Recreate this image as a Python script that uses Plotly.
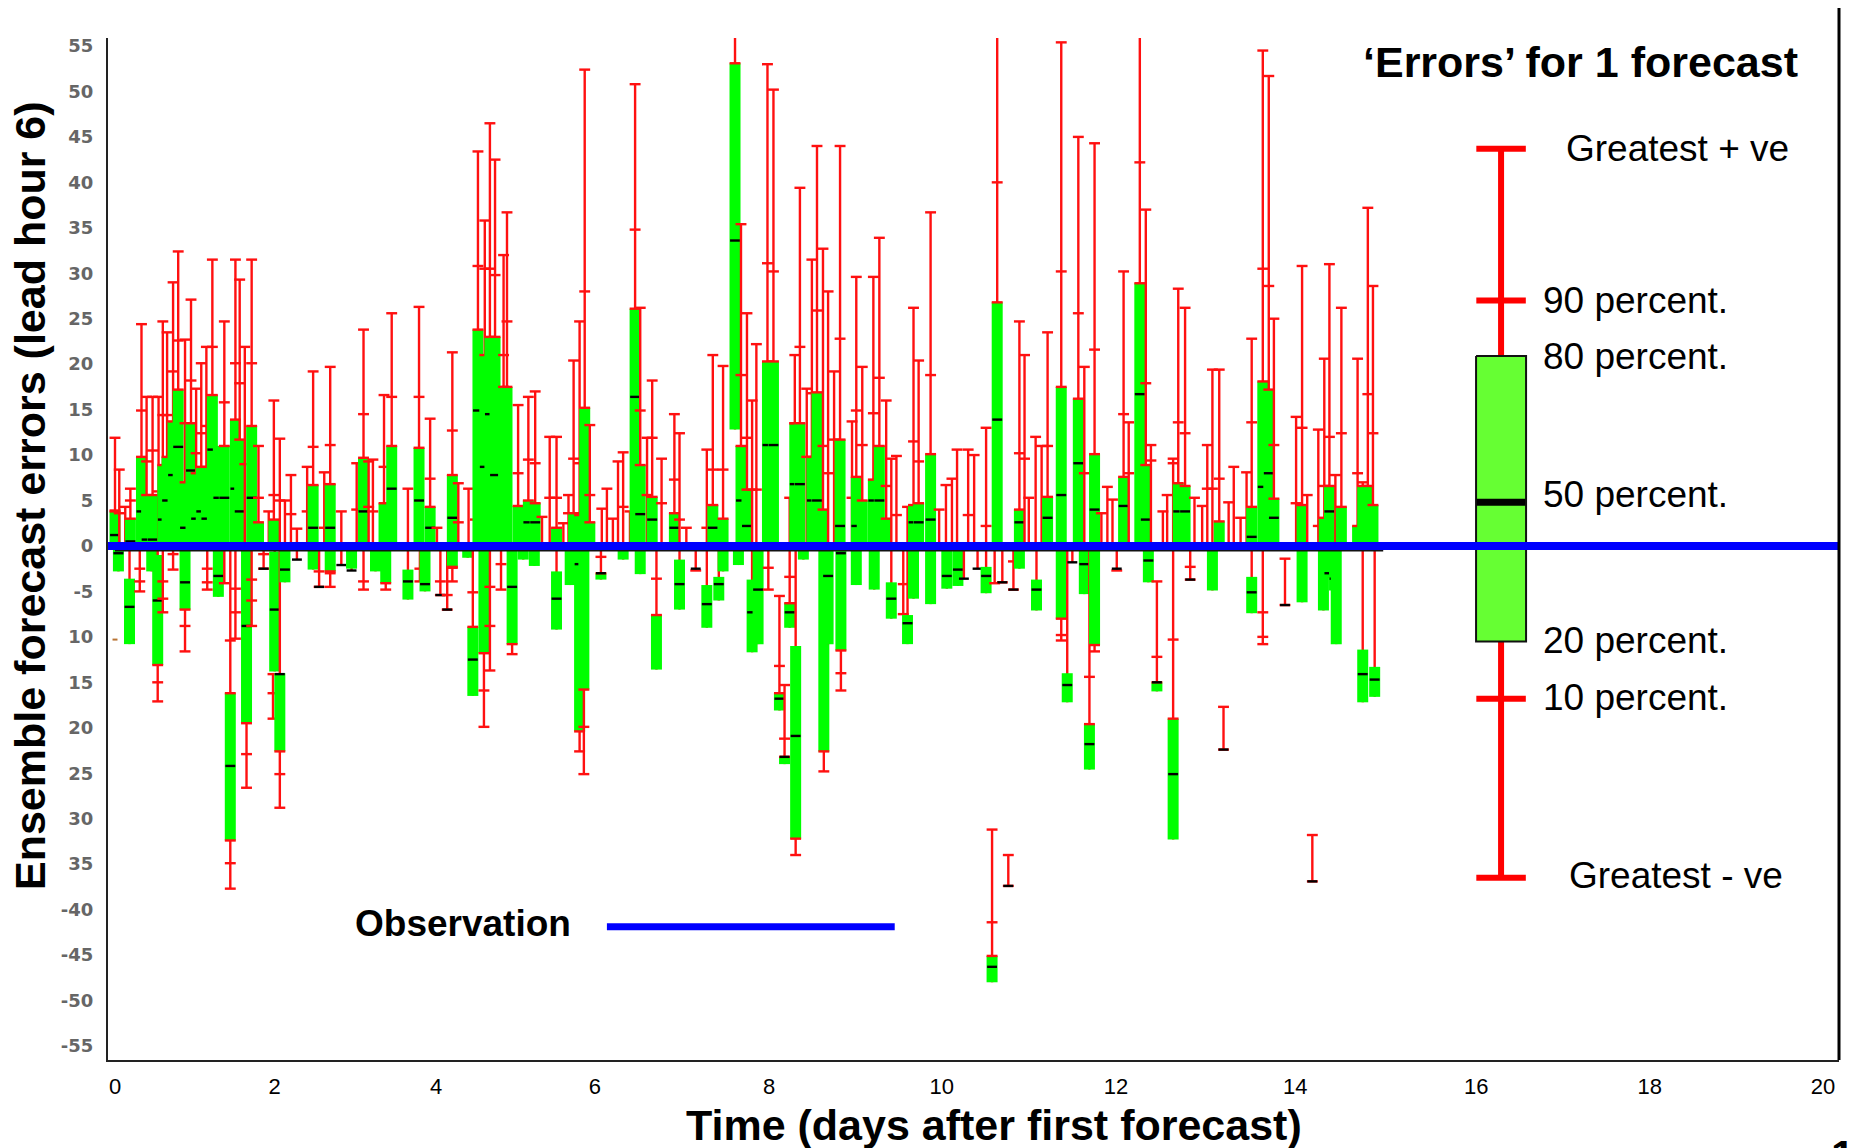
import plotly.graph_objects as go

N = None

# Forecasts that lie mainly above the observation (box reaches down to zero)
up_day = [0.00,0.05,0.12,0.18,0.31,0.37,0.44,0.51,0.56,0.61,
          0.68,0.74,0.82,0.89,0.95,1.01,1.07,1.14,1.21,1.28,
          1.41,1.46,1.52,1.60,1.68,1.80,1.86,1.93,1.99,2.06,
          2.13,2.25,2.32,2.45,2.52,2.65,2.83,2.91,2.97,3.02,
          3.15,3.24,3.43,3.56,3.69,3.77,3.95,4.02,4.14,4.22,
          4.25,4.33,4.39,4.45,4.55,4.59,4.72,4.84,4.92,5.00,
          5.09,5.17,5.25,5.31,5.37,5.44,5.50,5.56,5.70,5.76,
          5.83,5.89,5.95,6.03,6.09,6.15,6.23,6.29,6.40,6.55,
          6.61,6.69,6.93,7.00,7.12,7.33,7.40,7.46,7.51,
          7.64,7.71,7.90,7.96,8.02,8.10,8.16,8.22,8.29,8.35,
          8.42,8.49,8.63,8.68,8.75,8.88,8.95,9.03,9.09,9.15,
          9.28,9.35,9.41,9.55,9.65,9.73,9.80,9.86,9.99,10.06,
          10.20,10.33,10.59,10.65,10.70,10.78,10.85,10.92,11.08,11.28,
          11.35,11.47,11.55,11.62,11.68,11.81,11.87,12.00,12.07,12.13,
          12.27,12.32,12.39,12.45,12.53,12.64,12.73,12.79,12.85,12.93,
          13.04,13.10,13.18,13.25,13.31,13.44,13.51,13.57,13.83,13.90,
          13.96,14.09,14.16,14.22,14.29,14.36,14.55,14.61,14.67,14.73]
up_max = [11.9,8.4,4.3,6.3,24.4,16.4,16.4,16.4,24.7,23.5,
          29,32.4,22.7,27.1,17.3,20.1,21.9,31.5,N,24.7,
          31.5,29.3,21.9,31.5,11,3.8,16,11.8,5,7.8,
          1.9,8.7,19.2,8.1,19.7,3.8,9.1,23.8,9.3,9.5,
          16.6,25.6,6.3,26.3,14,2,21.3,6.9,6.3,2.9,
          43.4,35.8,46.5,42.5,32,36.7,15.5,16.4,17,3.2,
          12,12,2.5,5.6,20.4,24.7,52.4,13.3,4.1,6.3,
          3,9.3,10.3,3.8,50.8,26.2,11.9,18.2,9.6,14.5,
          12.4,2,10.6,21,19.8,35.4,25.6,16,22.2,
          53,50.2,5.3,21,39.4,17.3,31.5,44,32.7,28,
          19.2,44,13.7,29.6,19.7,29.6,33.9,16,9.6,9.9,
          4.3,26.2,20.4,36.7,4,6.7,7.4,10.6,10.6,10,
          13,70,24.7,21,5.3,12,11,23.5,55.4,45,
          19.7,44.3,3.6,6.5,5.1,30.2,13.6,70,37,11.1,
          3.8,5.6,9.6,28.3,26.2,5.3,4.4,11.1,19.4,19.4,
          4.8,8.7,3.1,8.1,22.8,54.5,51.7,25,14.2,30.8,
          5.6,12.8,20.6,31,7.8,26.2,20.6,7,37.2,28.6]
up_p90 = [3.9,3.6,N,5.0,14.9,9.3,10.5,6,14.4,14.4,
          19.2,22.6,13.5,18.2,10.2,12.4,13.2,21.9,N,15.8,
          20.1,17.9,9,20.1,5.3,N,5.6,5,N,3.5,
          N,3.8,10.9,2,11.1,N,4,14.5,4.3,3.8,
          8.7,16.4,N,16.4,7.4,N,12.7,2.6,N,N,
          30.8,30.5,30.5,29.8,21,24.7,8,9.5,9.1,N,
          5.3,5.3,N,3.6,9.6,9.1,28,5.6,N,N,
          N,N,4.3,N,34.8,14.9,5.6,11.9,4.7,7.3,
          2.9,N,2,8.4,8.4,18.8,11.9,6.2,6.2,
          31.1,30.2,N,13.5,21.9,9.8,16.8,25.9,11,8,
          11.7,22.8,5.3,14.9,11.1,14.6,18.5,6.6,N,3.4,
          N,11.5,9.3,18.8,N,N,N,N,3.4,N,
          2.2,40,10.2,9.6,N,N,N,11,30.2,25.6,
          8,21.6,N,N,N,14.5,8,42.2,17.9,9.4,
          N,N,9.1,13.6,12.4,N,N,6.3,6.3,7.4,
          N,N,N,N,13.6,30.5,28.6,11.1,4.7,13,
          N,2.2,6.6,12,N,12.4,8,N,16.7,12.4]
up_p80 = [3.8,N,N,3.0,9.8,5.6,5.6,N,8.9,9.8,
          13.7,17.2,7,13.5,8,8.7,8.7,16.6,11,11,
          13.9,11.7,N,13.2,2.6,N,2.9,N,N,N,
          N,N,6.7,N,6.8,N,N,9.7,N,N,
          4.7,11,N,10.8,4.3,N,7.8,N,N,N,
          23.8,21,23,23,17.5,17.5,4.4,5,4.7,N,
          N,2,N,N,3.6,3.4,15.2,2.6,N,N,
          N,N,N,N,26.1,8.9,N,5.4,N,3.6,
          N,N,N,4.5,3,11,6.2,N,N,
          20.3,20.3,N,13.5,13.5,N,9.8,16.9,4,N,
          N,11.7,N,7.6,5,7.3,11,3,N,N,
          N,4.5,4.7,10.1,N,N,N,N,N,N,
          N,26.8,4,N,N,N,N,5.4,17.5,16.2,
          N,10.1,N,N,N,7.6,N,28.9,8.9,N,
          N,N,N,6.9,6.6,N,N,N,N,2.7,
          N,N,N,N,4.3,18.1,17.2,5.2,N,4.5,
          N,N,3.1,6.6,N,4.3,2.2,6.6,6.6,4.5]
up_p50 = [1.2,N,N,0.5,3.8,0.7,0.7,N,2.9,5,
          7.8,10.9,2,8.3,3,3.8,3,10.6,5.3,5.3,
          6.3,3.8,N,5.3,N,N,N,N,N,N,
          N,N,2,N,2,N,N,3.8,N,N,
          N,6.3,N,5,2,N,3.1,N,N,N,
          14.9,8.7,14.5,7.8,N,N,N,2.6,2.6,N,
          N,N,N,N,N,N,N,N,N,N,
          N,N,N,N,16.4,3.5,N,2.9,N,2,
          N,N,N,2,N,5,2.2,N,N,
          11.1,11.1,N,6.8,6.8,N,5,5,N,N,
          N,2.2,N,2.2,N,5,5,N,N,N,
          N,2.6,2.6,2.9,N,N,N,N,N,N,
          N,13.9,2.6,N,N,N,N,3.1,5.6,9.1,
          N,4,N,N,N,4.4,N,16.7,2.9,N,
          N,N,N,3.8,3.8,N,N,N,N,N,
          N,N,N,N,1,6.5,8,3.1,N,N,
          N,N,N,3.8,N,N,N,N,N,N]

# Forecasts that reach mainly below the observation
lo_day = [0.04,0.17,0.29,0.43,0.50,0.56,0.68,0.82,1.08,1.21,1.28,1.35,1.41,1.54,1.60,1.74,1.85,1.87,1.93,1.99,
          2.13,2.32,2.39,2.52,2.65,2.77,2.91,3.05,3.17,3.43,3.57,3.63,3.81,3.89,3.95,4.13,4.19,4.32,4.39,4.52,
          4.65,4.78,4.91,5.17,5.33,5.44,5.49,5.69,5.95,6.15,6.34,6.61,6.80,6.93,7.07,7.12,7.26,7.30,7.46,7.53,
          7.65,7.78,7.84,7.90,7.97,8.06,8.30,8.35,8.50,8.68,8.89,9.09,9.23,9.28,9.35,9.55,9.74,9.87,9.94,10.10,
          10.20,10.27,10.30,10.39,10.46,10.52,10.59,10.79,11.08,11.15,11.21,11.35,11.41,11.47,11.73,12.10,12.20,12.39,12.59,12.85,
          12.98,13.31,13.44,13.70,13.90,14.02,14.15,14.22,14.28,14.30,14.61,14.75]
lo_max = [N,N,N,N,N,N,N,N,N,N,N,N,N,N,N,N,-14.1,N,N,N,
          N,N,N,N,N,N,N,N,N,N,N,N,N,N,N,N,N,N,N,N,
          N,N,N,N,N,N,N,N,N,N,N,N,N,N,N,N,70,N,N,N,
          N,-5.5,-15.3,N,N,N,N,N,N,N,N,N,N,N,N,N,N,N,N,N,
          N,-31.2,N,N,-34,N,N,N,N,N,N,N,N,N,N,N,-3.9,N,N,N,
          -17.7,N,N,-1.4,N,-31.8,N,N,N,N,N,N]
lo_p90 = [N,N,-2.5,N,N,-3.9,-0.9,N,-2.5,N,N,-10.4,-4.7,N,-3.7,-0.9,N,N,N,N,
          N,N,-2.8,N,N,N,N,N,N,N,N,N,N,N,N,N,-5.1,N,-4.5,N,
          N,N,N,N,N,N,N,-1.2,N,N,-3.6,N,N,N,N,N,60,N,N,N,
          N,-13.2,-21.2,-3.4,N,N,N,N,N,N,N,N,-4.2,N,N,N,N,N,N,N,
          N,-41.4,N,N,N,-1.7,N,N,N,N,N,N,-14.4,N,N,N,-12.2,-10.3,-2.3,N,
          N,N,-7.3,N,N,N,N,N,N,N,N,N]
lo_p80 = [0,-3.6,N,0,-1,N,N,0,N,0,N,-16.2,N,-0.5,N,N,N,-0.6,-14,0,
          N,0,N,0,N,0,N,0,0,-2.6,N,0,N,N,0,0,-8.9,0,N,N,
          0,0,0,-2.8,0,0,0,-3,0,0,-7.6,-1.5,N,-4.3,-3.4,0,53.1,0,-3.7,0,
          N,-16.2,-23.2,-6.3,-11,0,0,0,0,0,0,-4,N,-7.6,0,0,0,0,N,N,
          -2.3,-45.1,N,N,N,N,0,-3.7,0,-14,N,0,-19.6,0,N,0,-15,-19,N,0,
          N,-3.4,N,N,0,N,0,0,0,0,-11.4,-13.3]
lo_p50 = [-0.8,-6.7,N,N,-6,N,N,-4,N,-3.3,N,-24.2,N,-8.8,N,-2.5,N,-7,-14.1,-2.6,
          -1.5,N,-4.5,N,-2.1,-2.7,N,N,N,-3.9,N,-4.2,-5.4,-7,N,N,-12.5,N,N,N,
          -4.5,N,N,-5.8,N,-2,N,-3,N,N,N,-4.2,-2.5,-6.4,-4.2,N,33.6,N,-7.3,-4.8,
          N,-16.8,-23.2,-7.3,-20.9,N,N,-3.3,-0.8,N,N,-5.8,N,-8.5,N,N,-3.3,-2.6,-3.6,-2.5,
          -3.3,-46.3,N,-4,-37.4,-4.8,N,-4.8,N,-15.3,-1.8,-2,-21.8,N,-2.5,-1.6,-15,-25.1,-3.7,N,
          -22.4,-5.1,N,-6.5,N,-36.9,N,-3,-3.6,N,-14.1,-14.7]
lo_p20 = [-2.8,-10.8,N,-2.8,-13.1,N,N,-7,N,-5.6,N,-32.4,N,-19.5,N,N,N,-13.8,-22.6,-4,
          N,-2.6,N,-2.8,N,-2.5,N,-2.8,-4.1,-5.9,N,-5,N,N,-2.3,-1.3,-16.5,-11.8,N,N,
          -10.8,-1.5,-2.2,-9.2,-4.3,-20.4,-15.8,-3.7,-1.5,-3.1,-13.6,-7,N,-9,-6,-2.8,12.8,-2.1,-11.7,-10.8,
          N,-18.1,-24,-9,-32.2,-1.5,-22.6,-10.8,-11.5,-4.3,-4.8,-8,N,-10.8,-5.8,-6.4,-4.7,-4.4,N,N,
          -5.2,-48,N,N,N,N,-2.5,-7.1,-8,-17.2,N,-5.3,-24.6,-10.9,N,-4,-16,-32.3,N,-4.9,
          N,-7.4,N,N,-6.2,N,-7.1,-3.5,-4.9,-10.8,-17.2,-16.6]
lo_p10 = [N,N,-3.9,N,-15,-5.8,N,-8.8,-4,N,N,-34.9,-7.3,-22.9,-6,N,-16.2,N,-25.1,N,
          N,N,N,-3,N,N,-3.9,N,N,N,-2.5,N,-3.9,-5.4,-2.4,N,N,-15.9,-8.8,-2,
          N,N,N,N,N,N,-19.9,N,N,N,N,N,N,N,N,N,N,N,N,N,
          -2.4,N,N,N,N,N,N,N,-14,N,N,N,N,N,N,N,N,N,N,N,
          N,N,N,N,N,N,N,N,-9.8,N,N,N,N,N,N,N,N,N,N,N,
          N,N,-10,N,N,N,N,N,N,N,N,N]
lo_min = [N,N,-5,N,-17.1,-7.3,-2.6,-11.6,-4.8,N,-4.1,-37.7,-10.2,-26.6,-8.8,-2.5,-19,N,-28.8,N,
          N,N,-4.5,-4.5,N,N,-4.8,N,-4.8,N,-3.9,N,-5.4,-7,-3.9,N,N,-19.9,-13.7,-4.8,
          -11.9,N,N,N,N,-22.6,-25.1,N,N,N,N,N,-2.7,N,N,N,N,N,N,N,
          -4.8,N,N,N,-34,N,-24.8,N,-15.9,N,N,N,-7.5,N,N,N,N,N,N,N,
          N,N,-4.1,-4,-37.4,-4.8,N,N,-10.4,N,N,N,N,-11.6,-2.7,N,N,N,-3.7,N,
          -22.4,N,-10.8,-6.5,N,-36.9,N,N,N,N,N,N]

# Key drawn at the right: a single forecast's spread
key_day = 16.23
key_levels = {"max": 43.7, "p90": 27.0, "p80": 20.9, "p50": 4.8, "p20": -10.5, "p10": -16.8, "min": -36.5}

observation_value = 0
observation_span = [-0.082, 20.187]
zero_span = [0.0, 14.85]
zero_edge = -0.45
key_line_days = [5.76, 9.13]
key_line_value = -41.9

x_tick_days = [0, 1.87, 3.76, 5.62, 7.66, 9.68, 11.72, 13.82, 15.94, 17.97, 20]
x_tick_labels = ["0", "2", "4", "6", "8", "10", "12", "14", "16", "18", "20"]
y_tick_values = [55, 50, 45, 40, 35, 30, 25, 20, 15, 10, 5, 0, -5, -10, -15, -20, -25, -30, -35, -40, -45, -50, -55]
y_tick_labels = ["55", "50", "45", "40", "35", "30", "25", "20", "15", "10", "5", "0", "-5",
                 "10", "15", "20", "25", "30", "35", "-40", "-45", "-50", "-55"]

for col in (up_max, up_p90, up_p80, up_p50):
    assert len(col) == len(up_day), len(col)
for col in (lo_max, lo_p90, lo_p80, lo_p50, lo_p20, lo_p10, lo_min):
    assert len(col) == len(lo_day), len(col)

W, H = 1852, 1148
L, R, T, B = 108, 1839, 38, 1060
RED, GREEN = "#FF1010", "#00FF00"
FONT = "Liberation Sans"

rows = []
for i, d in enumerate(up_day):
    rows.append((d, up_max[i], up_p90[i], up_p80[i], up_p50[i], 0 if up_p80[i] is not None else None, None, None, True))
for i, d in enumerate(lo_day):
    rows.append((d, lo_max[i], lo_p90[i], lo_p80[i], lo_p50[i], lo_p20[i], lo_p10[i], lo_min[i], False))
rows.sort(key=lambda r: r[0])

fig = go.Figure()
common = dict(hoverinfo="skip", showlegend=False)


def line(xs, ys, color, width, **kw):
    fig.add_trace(go.Scatter(x=xs, y=ys, mode="lines", line=dict(color=color, width=width), **common, **kw))


def ticks(xs, ys, color, span, width):
    # a line-ew marker is drawn sqrt(2) times as wide as its size
    fig.add_trace(go.Scatter(x=xs, y=ys, mode="markers",
                             marker=dict(symbol="line-ew", size=span / 1.414, color=color,
                                         line=dict(color=color, width=width)), **common))


for d, vmax, p90, p80, p50, p20, p10, vmin, is_up in rows:
    vals = [v for v in (vmax, p90, p80, p50, p20, p10, vmin) if v is not None]
    anchored = vals + ([0] if (is_up or vmax is None) else [])
    line([d, d], [max(anchored), min(anchored)], RED, 2.4)
    caps = [v for v in (vmax, p90, p10, vmin) if v is not None]
    if p80 is not None and (vmax is not None or p90 is not None) and p80 != 0:
        caps.append(p80)
    if p20 is not None and (vmin is not None or p10 is not None) and p20 != 0:
        caps.append(p20)
    if p80 is not None and p20 is not None:
        line([d, d], [p80, p20], GREEN, 11)
    if caps:
        ticks([d] * len(caps), caps, RED, 11, 2.4)
    if p50 is not None:
        ticks([d], [p50], "#000000", 10, 2.4)

# stray tick by the axis
ticks([0.0], [-10.3], "#B87333", 5, 2)

# key glyph
line([key_day, key_day], [key_levels["max"], key_levels["min"]], "#FF0000", 6)
ticks([key_day] * 4, [key_levels[k] for k in ("max", "p90", "p10", "min")], "#FF0000", 50, 6)
half = 25 / ((R - L) / (observation_span[1] - observation_span[0]))
fig.add_trace(go.Scatter(
    x=[key_day - half, key_day + half, key_day + half, key_day - half, key_day - half],
    y=[key_levels["p80"], key_levels["p80"], key_levels["p20"], key_levels["p20"], key_levels["p80"]],
    mode="lines", fill="toself", fillcolor="#66FF33", line=dict(color="#111111", width=2), **common))
ticks([key_day], [key_levels["p50"]], "#000000", 49, 7)

# observation lines
line(zero_span, [zero_edge, zero_edge], "#111111", 3)
line(observation_span, [observation_value, observation_value], "#0000FF", 8)
line(key_line_days, [key_line_value, key_line_value], "#0000FF", 7)


def px(x):
    return (x - L) / (R - L)


def py(y):
    return (B - y) / (B - T)


def label(text, x, y, size, bold=False, angle=0):
    fig.add_annotation(text=f"<b>{text}</b>" if bold else text, xref="paper", yref="paper",
                       x=px(x), y=py(y), xanchor="center", yanchor="middle", showarrow=False,
                       textangle=angle, font=dict(family=FONT, size=size, color="#000000"))


label("‘Errors’ for 1 forecast", 1580, 62, 43, bold=True)
label("Greatest + ve", 1677, 148, 37)
label("90 percent.", 1635, 300, 37)
label("80 percent.", 1635, 356, 37)
label("50 percent.", 1635, 495, 37)
label("20 percent.", 1635, 640, 37)
label("10 percent.", 1635, 697, 37)
label("Greatest - ve", 1676, 875, 37)
label("Observation", 463, 923, 37, bold=True)
label("Time (days after first forecast)", 994, 1125, 43, bold=True)
label("Ensemble forecast errors (lead hour 6)", 30, 496, 43, bold=True, angle=-90)
label("1/", 1848, 1155, 42, bold=True)

# right-hand frame line runs above the plot area
fig.add_shape(type="line", xref="paper", yref="paper", x0=1, x1=1, y0=0, y1=py(8),
              line=dict(color="#000000", width=3), layer="above")

fig.update_layout(
    width=W, height=H, autosize=False,
    margin=dict(l=L, r=W - R, t=T, b=H - B, autoexpand=False),
    paper_bgcolor="#FFFFFF", plot_bgcolor="#FFFFFF", showlegend=False,
    xaxis=dict(range=observation_span, tickmode="array", tickvals=x_tick_days, ticktext=x_tick_labels,
               showgrid=False, zeroline=False, showline=True, linecolor="#222222", linewidth=2,
               ticks="", ticklabelstandoff=6, tickangle=0,
               tickfont=dict(family=FONT, size=22, color="#000000")),
    yaxis=dict(range=[-56.55, 55.88], tickmode="array", tickvals=y_tick_values, ticktext=y_tick_labels,
               showgrid=False, zeroline=False, showline=True, linecolor="#222222", linewidth=2,
               ticks="", ticklabelstandoff=9,
               tickfont=dict(family="DejaVu Sans", size=18, color="#666666", weight="bold")),
)

fig.write_html("out.html", config={"displayModeBar": False},
               post_script="document.body.style.margin='0';document.documentElement.style.overflow='hidden';")
